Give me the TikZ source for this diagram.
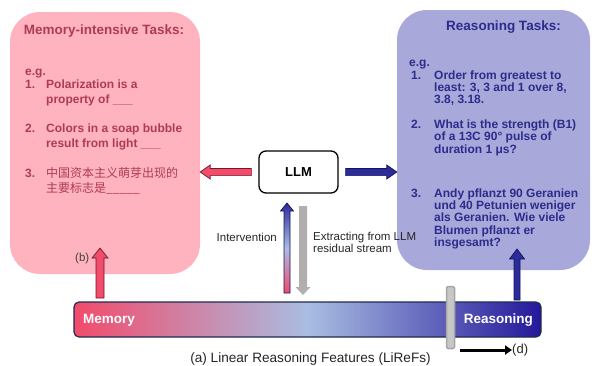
\documentclass[tikz,border=0pt]{standalone}
\usepackage{fontspec}
\setmainfont{Liberation Sans}
\newfontfamily\cjk{Noto Sans CJK SC}
\usetikzlibrary{calc,arrows.meta}
\definecolor{pinkbox}{HTML}{FFB3BF}
\definecolor{bluebox}{HTML}{A8A8DA}
\definecolor{redtxt}{HTML}{AE3B56}
\definecolor{bluetxt}{HTML}{2C2C8C}
\definecolor{arrred}{HTML}{F24B6B}
\definecolor{arrredline}{HTML}{6E1A2C}
\definecolor{arrblue}{HTML}{2B2B9A}
\definecolor{arrblueline}{HTML}{15155A}
\definecolor{midblue}{HTML}{A9BDE2}
\definecolor{barline}{HTML}{1E2A52}
\definecolor{grayarr}{HTML}{B3AEAE}
\definecolor{barright}{HTML}{24189A}
\newcommand\blockarrow[6][]{%
  \path[#1] let \p1=(#2), \p2=(#3),
    \n1={veclen(\x2-\x1,\y2-\y1)},
    \n3={(\x2-\x1)/\n1}, \n4={(\y2-\y1)/\n1} in
    ({\x1-(#4)*\n4},{\y1+(#4)*\n3})
 -- ({\x1+(\n1-#6)*\n3-(#4)*\n4},{\y1+(\n1-#6)*\n4+(#4)*\n3})
 -- ({\x1+(\n1-#6)*\n3-(#5)*\n4},{\y1+(\n1-#6)*\n4+(#5)*\n3})
 -- (\p2)
 -- ({\x1+(\n1-#6)*\n3+(#5)*\n4},{\y1+(\n1-#6)*\n4-(#5)*\n3})
 -- ({\x1+(\n1-#6)*\n3+(#4)*\n4},{\y1+(\n1-#6)*\n4-(#4)*\n3})
 -- ({\x1+(#4)*\n4},{\y1-(#4)*\n3})
 -- cycle;}
\begin{document}
\begin{tikzpicture}[x=1pt,y=-1pt,
  lbl/.style={inner sep=0pt,anchor=base west},
  memtxt/.style={lbl,text=redtxt,font=\fontsize{12}{15}\selectfont\bfseries},
  reatxt/.style={lbl,text=bluetxt,font=\fontsize{12}{12.4}\selectfont\bfseries},
  plain/.style={lbl,text=black!85,font=\fontsize{11.5}{12}\selectfont},
  redarrow/.style={fill=arrred,draw=arrredline,line width=0.7pt},
  bluearrow/.style={fill=arrblue,draw=arrblueline,line width=0.7pt}]
\useasboundingbox (0,0) rectangle (592,365);
% task boxes
\node[fill=pinkbox,rounded corners=30pt,minimum width=190pt,minimum height=262pt,inner sep=0pt] (mem) at (105,143) {};
\node[fill=bluebox,rounded corners=30pt,minimum width=193pt,minimum height=260pt,inner sep=0pt] (rea) at (493.5,140) {};
% memory text
\node[memtxt,font=\fontsize{13.5}{15}\selectfont\bfseries,anchor=base] (mt) at (104,34) {Memory-intensive Tasks:};
\node[memtxt] (meg) at (25,75) {e.g.};
\node[memtxt] (m1n) at (25,88) {1.};
\node[memtxt] (m1a) at (46,88) {Polarization is a};
\node[memtxt] (m1b) at (46,103) {property of \_\_\_};
\node[memtxt] (m2n) at (25,132) {2.};
\node[memtxt] (m2a) at (46,132) {Colors in a soap bubble};
\node[memtxt] (m2b) at (46,147) {result from light \_\_\_};
\node[memtxt] (m3n) at (25,177) {3.};
\node[memtxt,font=\fontsize{12}{15}\selectfont\cjk] (m3a) at (46,177) {中国资本主义萌芽出现的};
\node[memtxt,font=\fontsize{12}{15}\selectfont\cjk] (m3b) at (46,192) {主要标志是\_\_\_\_\_};
% reasoning text
\node[reatxt,font=\fontsize{13.5}{15}\selectfont\bfseries,anchor=base] (rt) at (503.5,30) {Reasoning Tasks:};
\node[reatxt] (reg) at (409,66) {e.g.};
\node[reatxt] (r1n) at (411,79) {1.};
\node[reatxt] (r1a) at (434,79) {Order from greatest to};
\node[reatxt] (r1b) at (434,91.4) {least: 3, 3 and 1 over 8,};
\node[reatxt] (r1c) at (434,103.8) {3.8, 3.18.};
\node[reatxt] (r2n) at (411,128) {2.};
\node[reatxt] (r2a) at (434,128) {What is the strength (B1)};
\node[reatxt] (r2b) at (434,140.5) {of a 13C 90° pulse of};
\node[reatxt] (r2c) at (434,153) {duration 1 μs?};
\node[reatxt] (r3n) at (411,197) {3.};
\node[reatxt] (r3a) at (434,197) {Andy pflanzt 90 Geranien};
\node[reatxt] (r3b) at (434,209.4) {und 40 Petunien weniger};
\node[reatxt] (r3c) at (434,221.8) {als Geranien. Wie viele};
\node[reatxt] (r3d) at (434,234.2) {Blumen pflanzt er};
\node[reatxt] (r3e) at (434,246.6) {insgesamt?};
% LLM
\node[draw=black,line width=1.3pt,rounded corners=7pt,fill=white,minimum width=79pt,minimum height=42pt,inner sep=0pt,font=\fontsize{13}{15}\selectfont\bfseries] (llm) at (298.5,172) {LLM};
\coordinate (lt) at ($(llm.west)+(-7,0)$);
\coordinate (lh) at (mem.east |- llm.west);
\coordinate (rtl) at ($(llm.east)+(7,0)$);
\coordinate (rh) at (rea.west |- llm.east);
\blockarrow[redarrow]{lt}{lh}{3.6}{7}{10}
\blockarrow[bluearrow]{rtl}{rh}{3.6}{7}{10}
% bar
\node[draw=barline,line width=1.2pt,rounded corners=5pt,left color=arrred,right color=barright,middle color=midblue,minimum width=467pt,minimum height=35pt,inner sep=0pt] (bar) at (307.5,319.5) {};
\node[lbl,text=white,font=\fontsize{13.5}{15}\selectfont\bfseries] (barm) at (83,323.5) {Memory};
\node[lbl,anchor=base east,text=white,font=\fontsize{13.5}{15}\selectfont\bfseries] (barr) at (533,323.5) {Reasoning};
% vertical arrows
\coordinate (gt) at (287,293);
\coordinate (gh) at (287,203);
\coordinate (xt) at (303,206);
\coordinate (xh) at (303,295);
\blockarrow[draw=arrblueline,line width=0.7pt,top color=arrblue,bottom color=arrred,middle color=midblue]{gt}{gh}{3}{6.5}{8}
\blockarrow[fill=grayarr]{xt}{xh}{4}{7.5}{8}
\node[plain,anchor=base east] (intv) at (277,241) {Intervention};
\node[plain] (ext1) at (313,240) {Extracting from LLM};
\node[plain] (ext2) at (313,252) {residual stream};
% up arrows
\coordinate (bt) at (100,298);
\coordinate (bh) at (100,248);
\coordinate (ct) at (517,300);
\coordinate (ch) at (517,249);
\blockarrow[redarrow]{bt}{bh}{4}{8}{10}
\blockarrow[bluearrow]{ct}{ch}{3}{7.5}{10}
\node[plain,text=black!75] (b) at (75,261) {(b)};
% slider
\node[draw=black!35,fill=black!22,line width=1.5pt,rounded corners=1.5pt,minimum width=8pt,minimum height=62pt,inner sep=0pt] (slider) at (450.5,317.5) {};
\coordinate (dt) at (460,350);
\node[plain,font=\fontsize{13}{15}\selectfont] (d) at (512,353.5) {(d)};
\draw[line width=3pt,-{Triangle[length=7pt,width=9pt]}] (dt) -- (d.west |- dt);
\node[plain,anchor=base,font=\fontsize{13.6}{15}\selectfont] (cap) at (310.5,362) {(a) Linear Reasoning Features (LiReFs)};
\end{tikzpicture}
\end{document}
